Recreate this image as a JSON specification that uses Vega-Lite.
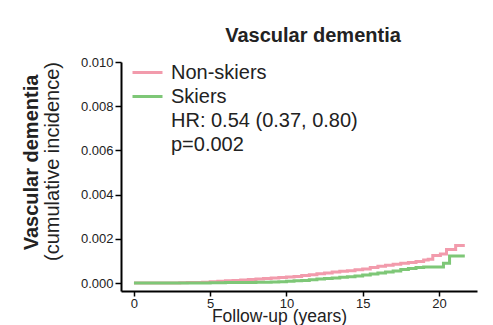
{
  "$schema": "https://vega.github.io/schema/vega-lite/v6.json",
  "autosize": {"type": "none"},
  "padding": {"left": 121, "top": 62, "right": 16, "bottom": 34},
  "width": 356,
  "height": 229,
  "background": "white",
  "config": {
    "font": "Liberation Sans",
    "view": {"stroke": null},
    "axis": {"labelFont": "Liberation Sans", "titleFont": "Liberation Sans", "labelColor": "#222", "titleColor": "#222", "domainColor": "#000", "tickColor": "#000", "grid": false}
  },
  "title": {"text": "Vascular dementia", "fontSize": 20, "fontWeight": "bold", "color": "#222", "anchor": "middle", "dx": 14, "baseline": "alphabetic", "offset": -6, "font": "Liberation Sans"},
  "data": {"values": [
    {"group": "Non-skiers", "year": 0, "cuminc": 0},
    {"group": "Non-skiers", "year": 1, "cuminc": 0},
    {"group": "Non-skiers", "year": 2, "cuminc": 0.000005},
    {"group": "Non-skiers", "year": 3, "cuminc": 0.00001},
    {"group": "Non-skiers", "year": 3.5, "cuminc": 0.00002},
    {"group": "Non-skiers", "year": 4, "cuminc": 0.00003},
    {"group": "Non-skiers", "year": 4.5, "cuminc": 0.00004},
    {"group": "Non-skiers", "year": 5, "cuminc": 0.00006},
    {"group": "Non-skiers", "year": 5.5, "cuminc": 0.00008},
    {"group": "Non-skiers", "year": 6, "cuminc": 0.0001},
    {"group": "Non-skiers", "year": 6.5, "cuminc": 0.00012},
    {"group": "Non-skiers", "year": 7, "cuminc": 0.00014},
    {"group": "Non-skiers", "year": 7.5, "cuminc": 0.00016},
    {"group": "Non-skiers", "year": 8, "cuminc": 0.00018},
    {"group": "Non-skiers", "year": 8.5, "cuminc": 0.0002},
    {"group": "Non-skiers", "year": 9, "cuminc": 0.00023},
    {"group": "Non-skiers", "year": 9.5, "cuminc": 0.00025},
    {"group": "Non-skiers", "year": 10, "cuminc": 0.00027},
    {"group": "Non-skiers", "year": 10.5, "cuminc": 0.0003},
    {"group": "Non-skiers", "year": 11, "cuminc": 0.00034},
    {"group": "Non-skiers", "year": 11.5, "cuminc": 0.00038},
    {"group": "Non-skiers", "year": 12, "cuminc": 0.00042},
    {"group": "Non-skiers", "year": 12.5, "cuminc": 0.00046},
    {"group": "Non-skiers", "year": 13, "cuminc": 0.0005},
    {"group": "Non-skiers", "year": 13.5, "cuminc": 0.00053},
    {"group": "Non-skiers", "year": 14, "cuminc": 0.00056},
    {"group": "Non-skiers", "year": 14.5, "cuminc": 0.0006},
    {"group": "Non-skiers", "year": 15, "cuminc": 0.00064},
    {"group": "Non-skiers", "year": 15.5, "cuminc": 0.0007},
    {"group": "Non-skiers", "year": 16, "cuminc": 0.00076},
    {"group": "Non-skiers", "year": 16.5, "cuminc": 0.0008},
    {"group": "Non-skiers", "year": 17, "cuminc": 0.00085},
    {"group": "Non-skiers", "year": 17.5, "cuminc": 0.00089},
    {"group": "Non-skiers", "year": 18, "cuminc": 0.00093},
    {"group": "Non-skiers", "year": 18.5, "cuminc": 0.00098},
    {"group": "Non-skiers", "year": 19, "cuminc": 0.00104},
    {"group": "Non-skiers", "year": 19.3, "cuminc": 0.00108},
    {"group": "Non-skiers", "year": 19.6, "cuminc": 0.00125},
    {"group": "Non-skiers", "year": 20.1, "cuminc": 0.00131},
    {"group": "Non-skiers", "year": 20.5, "cuminc": 0.00152},
    {"group": "Non-skiers", "year": 21.1, "cuminc": 0.0017},
    {"group": "Non-skiers", "year": 21.7, "cuminc": 0.0017},
    {"group": "Skiers", "year": 0, "cuminc": 0},
    {"group": "Skiers", "year": 5, "cuminc": 0.00001},
    {"group": "Skiers", "year": 6, "cuminc": 0.00002},
    {"group": "Skiers", "year": 7, "cuminc": 0.00003},
    {"group": "Skiers", "year": 8, "cuminc": 0.00004},
    {"group": "Skiers", "year": 9, "cuminc": 0.00005},
    {"group": "Skiers", "year": 9.5, "cuminc": 0.00006},
    {"group": "Skiers", "year": 10, "cuminc": 0.00008},
    {"group": "Skiers", "year": 10.5, "cuminc": 0.0001},
    {"group": "Skiers", "year": 11, "cuminc": 0.00012},
    {"group": "Skiers", "year": 11.5, "cuminc": 0.00015},
    {"group": "Skiers", "year": 12, "cuminc": 0.00018},
    {"group": "Skiers", "year": 12.5, "cuminc": 0.0002},
    {"group": "Skiers", "year": 13, "cuminc": 0.00023},
    {"group": "Skiers", "year": 13.5, "cuminc": 0.00026},
    {"group": "Skiers", "year": 14, "cuminc": 0.00029},
    {"group": "Skiers", "year": 14.5, "cuminc": 0.00032},
    {"group": "Skiers", "year": 15, "cuminc": 0.00036},
    {"group": "Skiers", "year": 15.5, "cuminc": 0.00041},
    {"group": "Skiers", "year": 16, "cuminc": 0.00046},
    {"group": "Skiers", "year": 16.5, "cuminc": 0.0005},
    {"group": "Skiers", "year": 17, "cuminc": 0.00055},
    {"group": "Skiers", "year": 17.5, "cuminc": 0.00061},
    {"group": "Skiers", "year": 18, "cuminc": 0.00066},
    {"group": "Skiers", "year": 18.5, "cuminc": 0.0007},
    {"group": "Skiers", "year": 19, "cuminc": 0.00073},
    {"group": "Skiers", "year": 20.3, "cuminc": 0.00089},
    {"group": "Skiers", "year": 20.7, "cuminc": 0.00122},
    {"group": "Skiers", "year": 21.7, "cuminc": 0.00122}
  ]},
  "layer": [
    {
      "mark": {"type": "line", "interpolate": "step-after", "strokeWidth": 3, "clip": false},
      "encoding": {
        "x": {"field": "year", "type": "quantitative",
              "scale": {"domain": [-0.85, 22.5], "nice": false, "zero": false},
              "axis": {"values": [0, 5, 10, 15, 20], "format": "d", "labelFontSize": 13, "tickSize": 5, "tickWidth": 1.5, "domainWidth": 2, "labelPadding": 1,
                       "title": "Follow-up (years)", "titleFontSize": 17.5, "titleFontWeight": "normal", "titleX": 158, "titleY": 30, "titleBaseline": "alphabetic", "titleAlign": "center"}},
        "y": {"field": "cuminc", "type": "quantitative",
              "scale": {"domain": [-0.00036, 0.01], "nice": false, "zero": false},
              "axis": {"values": [0, 0.002, 0.004, 0.006, 0.008, 0.01], "format": ".3f", "labelFontSize": 13, "tickSize": 6, "tickWidth": 1.5, "domainWidth": 2, "labelPadding": 2,
                       "title": "(cumulative incidence)", "titleFontSize": 20, "titleFontWeight": "normal", "titleX": -63, "titleY": 99, "titleBaseline": "alphabetic", "titleAlign": "center", "titleAngle": -90}},
        "color": {"field": "group", "type": "nominal",
                  "scale": {"domain": ["Non-skiers", "Skiers", "HR: 0.54 (0.37, 0.80)", "p=0.002"], "range": ["#f29bac", "#7ec777", "transparent", "transparent"]},
                  "legend": {"orient": "none", "legendX": 13, "legendY": -3, "title": null, "symbolType": "M-1.25,0H1.25", "symbolStrokeWidth": 3, "symbolSize": 576, "labelFontSize": 20, "labelFont": "Liberation Sans", "labelColor": "#222", "labelOffset": 10, "rowPadding": 0, "padding": 0, "labelLimit": 400}}
      }
    },
    {
      "mark": {"type": "point", "opacity": 0},
      "encoding": {
        "x": {"field": "year", "type": "quantitative", "scale": {"domain": [-0.85, 22.5], "nice": false, "zero": false}},
        "y": {"field": "cuminc", "type": "quantitative",
              "scale": {"domain": [-0.00036, 0.01], "nice": false, "zero": false},
              "axis": {"orient": "left", "labels": false, "ticks": false, "domain": false,
                       "title": "Vascular dementia", "titleFontSize": 20, "titleFontWeight": "bold", "titleX": -84, "titleY": 100, "titleBaseline": "alphabetic", "titleAlign": "center", "titleAngle": -90}}
      }
    }
  ],
  "resolve": {"scale": {"y": "independent"}, "axis": {"y": "independent"}}
}
